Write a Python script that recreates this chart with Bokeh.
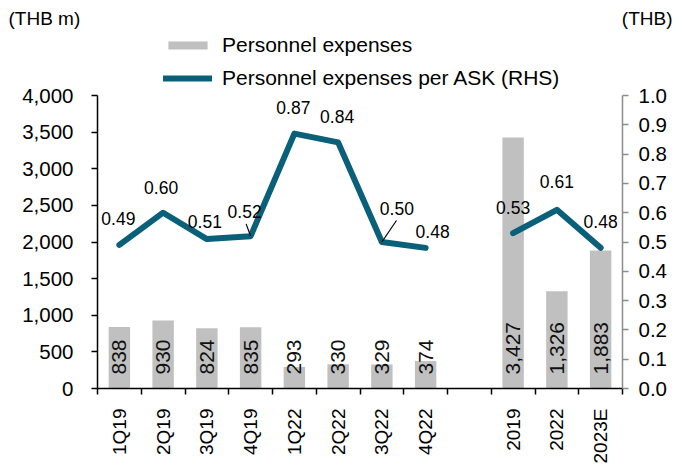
from math import pi
from bokeh.plotting import figure
from bokeh.models import (Range1d, LinearAxis, FixedTicker, NumeralTickFormatter, Label,
                          Legend, LegendItem, ColumnDataSource)
from bokeh.core.properties import value
from bokeh.embed import file_html
from bokeh.resources import INLINE

# ---------------- data ----------------
categories = ["1Q19", "2Q19", "3Q19", "4Q19", "1Q22", "2Q22", "3Q22", "4Q22",
              "2019", "2022", "2023E"]
expenses = [838, 930, 824, 835, 293, 330, 329, 374, 3427, 1326, 1883]   # THB m
per_ask = [0.49, 0.60, 0.51, 0.52, 0.87, 0.84, 0.50, 0.48, 0.53, 0.61, 0.48]  # THB
left_ticks = [0, 500, 1000, 1500, 2000, 2500, 3000, 3500, 4000]
right_ticks = [0.0, 0.1, 0.2, 0.3, 0.4, 0.5, 0.6, 0.7, 0.8, 0.9, 1.0]

# ---------------- layout / style ----------------
slots = [0, 1, 2, 3, 4, 5, 6, 7, 9, 10, 11]        # slot 8 left empty as a gap
N_SLOTS = 12
FONT = "Liberation Sans"
TEAL = "#0a6079"
GREY = "#c0c0c0"
W, H = 672, 466
AX_L, AX_R = 97, 622          # pixel x of left / right axis
AX_B, AX_T = 388, 95          # pixel y of value 0 / 4000
SLOT_PX = (AX_R - AX_L) / N_SLOTS
KL = (AX_B - AX_T) / 4000.0   # px per THB m
KR = (AX_B - AX_T) / 1.0      # px per THB

x_start = -AX_L / SLOT_PX
x_end = x_start + W / SLOT_PX
yl_start, yl_end = -(H - AX_B) / KL, AX_B / KL
yr_start, yr_end = -(H - AX_B) / KR, AX_B / KR

# label offsets (px) for the per-ASK values
lab_dx = [-1, -2, -2, -6, -1, -1, 15, 7, 0, 0, 0]
lab_dy = [-26, -25, -18, -25, -26, -26, -34, -16, -26, -28, -26]
leader_idx = [3, 6]
leader_dx = [-4.5, 14.6]
leader_dy = [-12.3, -21.5]

xs = [s + 0.5 for s in slots]

p = figure(width=W, height=H, output_backend="svg", toolbar_location=None,
           x_range=Range1d(x_start, x_end), y_range=Range1d(yl_start, yl_end),
           x_axis_type=None, y_axis_type=None, min_border=0)
p.extra_y_ranges = {"rhs": Range1d(yr_start, yr_end)}
p.outline_line_color = None
p.background_fill_color = "white"
p.border_fill_color = "white"

# x axis
xaxis = LinearAxis(ticker=FixedTicker(ticks=xs, minor_ticks=list(range(N_SLOTS + 1))),
                   major_label_overrides={x: c for x, c in zip(xs, categories)},
                   fixed_location=0, bounds=(0, N_SLOTS))
xaxis.major_tick_out = 0
xaxis.major_tick_in = 0
xaxis.major_tick_line_color = None
xaxis.minor_tick_out = 6
xaxis.minor_tick_in = 0
xaxis.minor_tick_line_color = "black"
xaxis.minor_tick_line_width = 1.5
xaxis.axis_line_color = "black"
xaxis.axis_line_width = 1.5
xaxis.major_label_orientation = pi / 2
xaxis.major_label_standoff = 14
xaxis.major_label_text_font = FONT
xaxis.major_label_text_font_size = "19px"
xaxis.major_label_text_color = "black"
p.add_layout(xaxis, "below")

# left axis
yl = LinearAxis(ticker=FixedTicker(ticks=left_ticks), bounds=(0, 4000), fixed_location=0,
                formatter=NumeralTickFormatter(format="0,0"))
yl.major_tick_out = 6
yl.major_tick_in = 0
yl.minor_tick_line_color = None
yl.axis_line_color = "black"
yl.axis_line_width = 1.5
yl.major_tick_line_color = "black"
yl.major_tick_line_width = 1.5
yl.major_label_standoff = 18
yl.major_label_text_font = FONT
yl.major_label_text_font_size = "20.5px"
yl.major_label_text_color = "black"
p.add_layout(yl, "left")

# right axis
yr = LinearAxis(y_range_name="rhs", ticker=FixedTicker(ticks=right_ticks), bounds=(0, 1.0),
                fixed_location=N_SLOTS, formatter=NumeralTickFormatter(format="0.0"))
yr.major_tick_out = 6
yr.major_tick_in = 0
yr.minor_tick_line_color = None
yr.axis_line_color = "#8c8c8c"
yr.axis_line_width = 1.5
yr.major_tick_line_color = "#8c8c8c"
yr.major_tick_line_width = 1.5
yr.major_label_standoff = 10
yr.major_label_text_font = FONT
yr.major_label_text_font_size = "20.5px"
yr.major_label_text_color = "black"
p.add_layout(yr, "right")

# bars
bar_src = ColumnDataSource(dict(x=xs, top=expenses,
                                txt=[f"{v:,}" for v in expenses]))
bars = p.vbar(x="x", top="top", bottom=0, width=0.49, source=bar_src,
              fill_color=GREY, line_color=None)
p.text(x="x", y=0, text="txt", source=bar_src, angle=pi / 2,
       text_align="left", text_baseline="middle", y_offset=-14,
       text_font=value(FONT), text_font_size="21px", text_color="#111111")

# lines (two pieces: quarterly and annual)
q_src = ColumnDataSource(dict(x=xs[:8], y=per_ask[:8]))
a_src = ColumnDataSource(dict(x=xs[8:], y=per_ask[8:]))
line_q = p.line(x="x", y="y", source=q_src, y_range_name="rhs",
                line_color=TEAL, line_width=6, line_join="round", line_cap="round")
p.line(x="x", y="y", source=a_src, y_range_name="rhs",
       line_color=TEAL, line_width=6, line_join="round", line_cap="round")

# leader lines
lx0 = [xs[i] for i in leader_idx]
ly0 = [per_ask[i] for i in leader_idx]
lx1 = [x + dx / SLOT_PX for x, dx in zip(lx0, leader_dx)]
ly1 = [y - dy / KR for y, dy in zip(ly0, leader_dy)]
p.segment(x0=lx0, y0=ly0, x1=lx1, y1=ly1, y_range_name="rhs",
          line_color="black", line_width=1.2)

lab_src = ColumnDataSource(dict(x=xs, y=per_ask, txt=[f"{v:.2f}" for v in per_ask],
                                dx=lab_dx, dy=lab_dy))
p.text(x="x", y="y", text="txt", source=lab_src, y_range_name="rhs",
       x_offset="dx", y_offset="dy", text_align="center", text_baseline="middle",
       text_font=value(FONT), text_font_size="17.5px", text_color="black")

# unit labels
p.add_layout(Label(x=8, y=H - 18, x_units="screen", y_units="screen", text="(THB m)",
                   text_baseline="middle", text_align="left",
                   text_font=FONT, text_font_size="19px", text_color="black"))
p.add_layout(Label(x=672, y=H - 18, x_units="screen", y_units="screen", text="(THB)",
                   text_baseline="middle", text_align="right",
                   text_font=FONT, text_font_size="19px", text_color="black"))

legend = Legend(items=[LegendItem(label="Personnel expenses", renderers=[bars]),
                       LegendItem(label="Personnel expenses per ASK (RHS)", renderers=[line_q])],
                location=(163, H - 90), glyph_width=49, glyph_height=10, label_standoff=10,
                spacing=9, padding=0, margin=0, border_line_color=None,
                background_fill_alpha=0, label_text_font=FONT,
                label_text_font_size="21px", label_text_color="black")
p.add_layout(legend)

open("out.html", "w").write(file_html(p, INLINE))
